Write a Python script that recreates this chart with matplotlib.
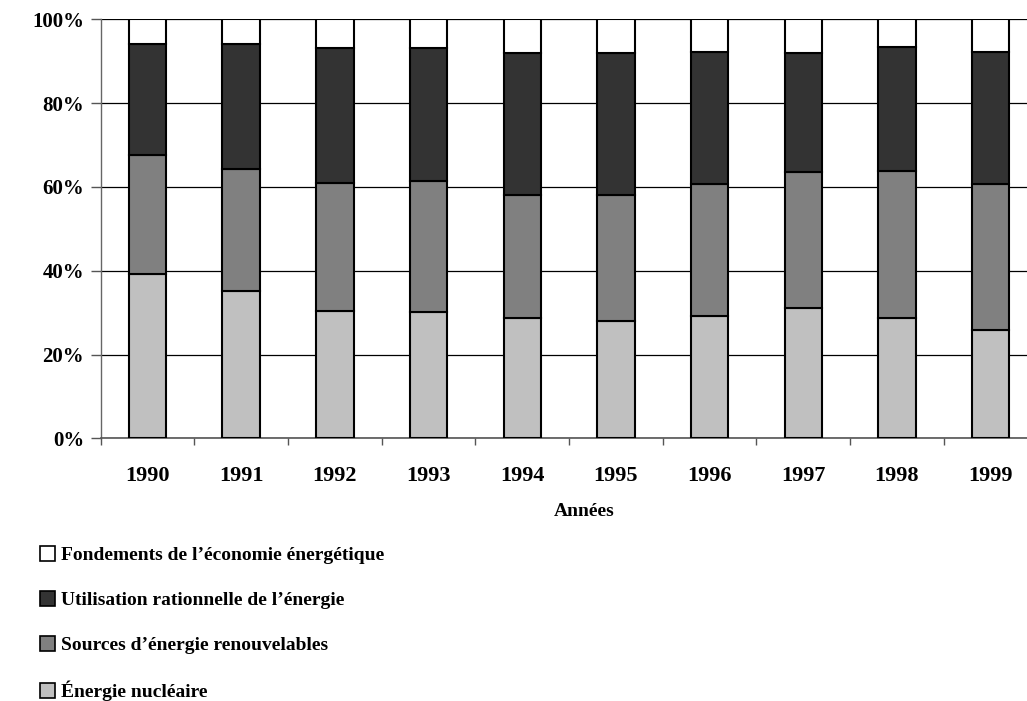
import matplotlib
matplotlib.use("Agg")
import matplotlib.pyplot as plt
from matplotlib.patches import Patch
import numpy as np

years = ["1990", "1991", "1992", "1993", "1994", "1995", "1996", "1997", "1998", "1999"]
nucleaire = [39.2, 35.2, 30.5, 30.2, 28.6, 28.0, 29.3, 31.0, 28.6, 25.9]
renouvelables = [28.4, 29.1, 30.5, 31.3, 29.5, 30.1, 31.3, 32.6, 35.2, 34.7]
rationnelle = [26.6, 29.7, 32.2, 31.7, 33.9, 33.8, 31.7, 28.4, 29.7, 31.7]
fondements = [5.8, 6.0, 6.8, 6.8, 8.0, 8.1, 7.7, 8.0, 6.5, 7.7]

series = [
    ("Énergie nucléaire", nucleaire, "#c0c0c0"),
    ("Sources d\u2019énergie renouvelables", renouvelables, "#808080"),
    ("Utilisation rationnelle de l\u2019énergie", rationnelle, "#333333"),
    ("Fondements de l\u2019économie énergétique", fondements, "#ffffff"),
]

plt.rcParams['font.family'] = ['Liberation Serif', 'DejaVu Serif']
plt.rcParams['font.weight'] = 'bold'

fig = plt.figure(figsize=(10.27, 7.01), dpi=100)
ax = fig.add_axes([100.7 / 1027, 262.7 / 701, 936.8 / 1027, 419 / 701])

x = np.arange(len(years))
bottom = np.zeros(len(years))
handles = []
for label, vals, color in series:
    vals = np.array(vals)
    ax.bar(x, vals, bottom=bottom, width=0.4, color=color, edgecolor="black",
           linewidth=1.5, zorder=3)
    bottom += vals
    handles.append(Patch(facecolor=color, edgecolor="black", linewidth=1.2, label=label))

ax.set_xlim(-0.5, len(years) - 0.5)
ax.set_ylim(0, 100)
ax.set_yticks([0, 20, 40, 60, 80, 100])
ax.set_yticklabels(["0%", "20%", "40%", "60%", "80%", "100%"], fontsize=15, fontweight='bold')
ax.set_xticks(x)
ax.set_xticklabels(years, fontsize=16, fontweight='bold')
ax.set_xticks(np.arange(-0.5, len(years), 1), minor=True)
ax.tick_params(axis='x', which='major', length=0, pad=20)
ax.tick_params(axis='x', which='minor', length=5, width=1, color="#555555", direction='out')
ax.tick_params(axis='y', length=7, width=1, color="#555555", pad=5)

ax.yaxis.grid(True, color="black", linewidth=0.9, zorder=0)
ax.set_axisbelow(True)
for s in ["top", "right"]:
    ax.spines[s].set_visible(False)
ax.spines["left"].set_color("#666666")
ax.spines["bottom"].set_color("#555555")
ax.spines["left"].set_linewidth(1)
ax.spines["bottom"].set_linewidth(1.2)

fig.text(584 / 1027, 1 - 512 / 701, "Années", ha="center", va="center",
         fontsize=14, fontweight='bold')

leg = fig.legend(handles=handles[::-1], loc="upper left",
                 bbox_to_anchor=(32 / 1027, 1 - 538 / 701),
                 frameon=False, fontsize=14, handlelength=0.8, handleheight=0.8,
                 handletextpad=0.3, labelspacing=1.38, borderaxespad=0)
for t in leg.get_texts():
    t.set_fontweight('bold')

fig.savefig("out.png", dpi=100)
